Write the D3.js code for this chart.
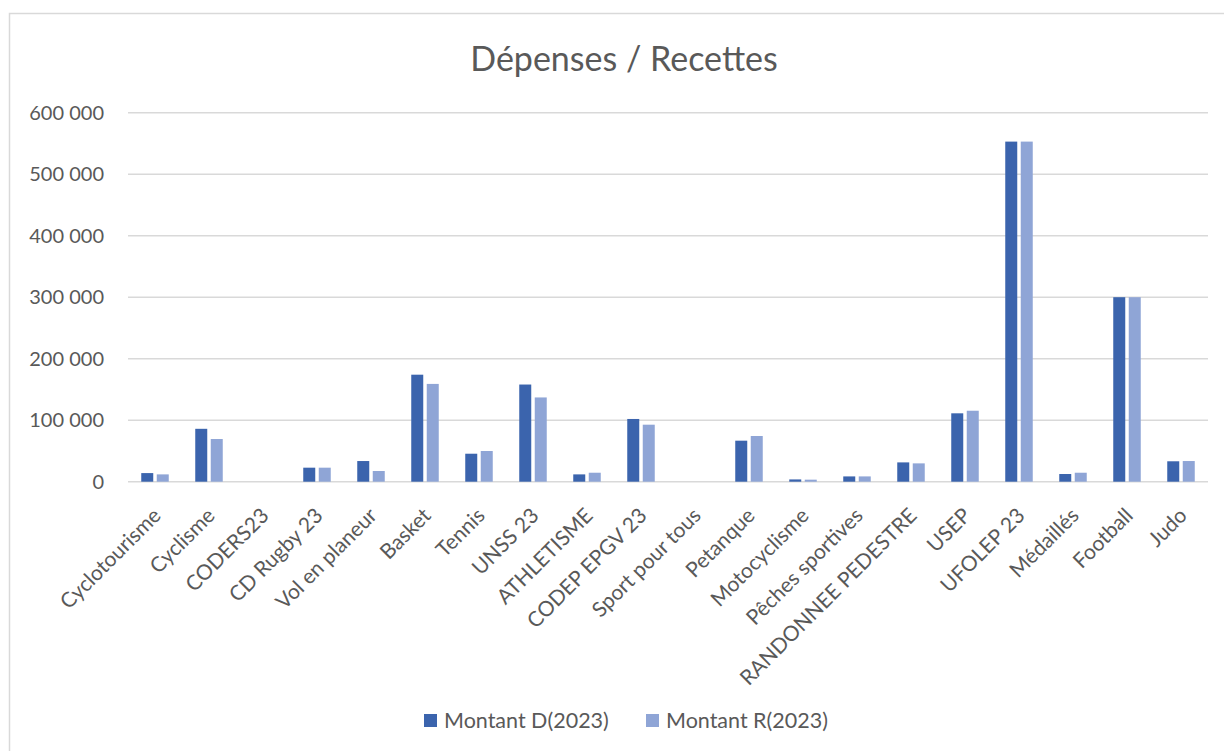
<!DOCTYPE html>
<html><head><meta charset="utf-8">
<script src="https://cdn.jsdelivr.net/npm/d3@7"></script>
<style>body{margin:0;background:#fff;} svg{display:block;}</style>
</head><body>
<svg id="c" width="1224" height="751"></svg>
<script>
const categories = ["Cyclotourisme","Cyclisme","CODERS23","CD Rugby 23","Vol en planeur","Basket","Tennis","UNSS 23","ATHLETISME","CODEP EPGV 23","Sport pour tous","Petanque","Motocyclisme","Pêches sportives","RANDONNEE PEDESTRE","USEP","UFOLEP 23","Médaillés","Football","Judo"];
const montantD = [14000,86000,0,22800,33600,174000,45500,158000,11900,102000,0,66700,3700,8600,31400,111200,553000,12500,300000,33200];
const montantR = [11900,69400,0,22800,17400,159000,49900,137000,14600,92700,0,74300,3300,8600,29800,115400,553000,14600,300000,33600];
const seriesNames = ["Montant D(2023)","Montant R(2023)"];
const yTicks = [0,100000,200000,300000,400000,500000,600000];
const title = "Dépenses / Recettes";

(function(){
const colors = ["#3B64AD","#8FA5D6"];
const font = "Lato, 'Noto Sans', sans-serif";
const svg = d3.select("#c");
svg.append("rect").attr("x",9.5).attr("y",13.5).attr("width",1220).attr("height",760)
  .attr("fill","#fff").attr("stroke","#D9D9D9").attr("stroke-width",1.5);

const pl=128, pr=1208, pt=112.7, pb=481.7;
const x = d3.scaleBand().domain(categories).range([pl,pr]);
const y = d3.scaleLinear().domain([0,600000]).range([pb,pt]);

svg.append("text").attr("x",624).attr("y",71).attr("text-anchor","middle")
  .attr("font-family",font).attr("font-size",34).attr("fill","#595959").text(title);

const fmt = v => d3.format(",")(v).replace(/,/g," ");
const g = svg.append("g");
g.selectAll("line.grid").data(yTicks).join("line")
  .attr("x1",pl).attr("x2",pr).attr("y1",d=>y(d)).attr("y2",d=>y(d))
  .attr("stroke","#D9D9D9").attr("stroke-width",1.5);
g.selectAll("text.yt").data(yTicks).join("text")
  .attr("x",104).attr("y",d=>y(d)).attr("dy","0.35em").attr("text-anchor","end")
  .attr("font-family",font).attr("font-size",20).attr("fill","#595959").text(fmt);

const bw = 12, gap = 3.5;
const series = [montantD, montantR];
series.forEach((vals,si)=>{
  svg.append("g").selectAll("rect").data(categories).join("rect")
    .attr("x",(d)=>x(d)+x.bandwidth()/2 - bw - gap/2 + si*(bw+gap))
    .attr("width",bw)
    .attr("y",(d,i)=>y(vals[i]))
    .attr("height",(d,i)=>pb - y(vals[i]))
    .attr("fill",colors[si]);
});

svg.append("g").selectAll("text").data(categories).join("text")
  .attr("transform",d=>`translate(${x(d)+x.bandwidth()/2+2},${pb+30}) rotate(-45)`)
  .attr("text-anchor","end").attr("dy","0.35em")
  .attr("font-family",font).attr("font-size",21).attr("fill","#595959").text(d=>d);

const legX = [424, 646];
seriesNames.forEach((n,i)=>{
  svg.append("rect").attr("x",legX[i]).attr("y",714).attr("width",13).attr("height",13).attr("fill",colors[i]);
  svg.append("text").attr("x",legX[i]+20).attr("y",720).attr("dy","0.35em")
    .attr("font-family",font).attr("font-size",21.5).attr("fill","#595959").text(n);
});
})();
</script>
</body></html>
